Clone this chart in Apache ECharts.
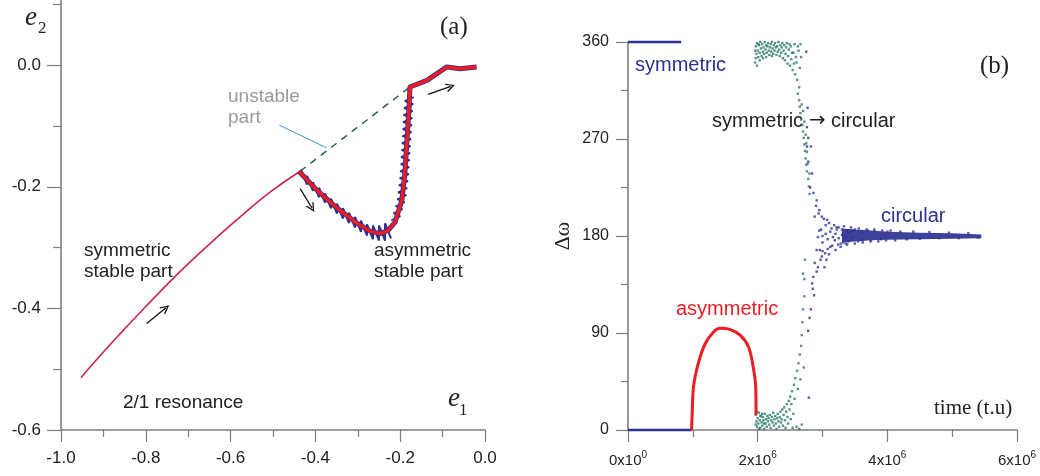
<!DOCTYPE html>
<html><head><meta charset="utf-8">
<script src="https://cdn.jsdelivr.net/npm/echarts@6/dist/echarts.min.js"></script>
<style>html,body{margin:0;padding:0;background:#fff}#c{width:1040px;height:476px}</style>
</head><body><div id="c"></div>
<script>
// ================= Panel (a): e1 vs e2 =================
const e1TickLabels = [-1.0, -0.8, -0.6, -0.4, -0.2, 0.0];
const e2TickLabels = [-0.6, -0.4, -0.2, 0.0];

// symmetric stable part (thin line)
const symE1 = [-0.953, -0.908, -0.861, -0.800, -0.743, -0.696, -0.637, -0.578, -0.507, -0.436];
const symE2 = [-0.514, -0.478, -0.442, -0.397, -0.356, -0.324, -0.286, -0.250, -0.209, -0.1745];

// unstable part (dashed)
const unstE1 = [-0.436, -0.177];
const unstE2 = [-0.1745, -0.036];

// asymmetric stable part (thick red)
const asymE1 = [-0.439, -0.396, -0.349, -0.302, -0.271, -0.248, -0.229, -0.212, -0.196, -0.189, -0.184, -0.179, -0.177, -0.137, -0.090, -0.059, -0.020];
const asymE2 = [-0.1745, -0.206, -0.235, -0.260, -0.273, -0.277, -0.272, -0.258, -0.222, -0.178, -0.123, -0.069, -0.036, -0.025, -0.003, -0.006, -0.003];

// blue oscillation around the asymmetric branch (descending part)
const zigE1 = [-0.4340, -0.4198, -0.4198, -0.4057, -0.4057, -0.3915, -0.3915, -0.3774, -0.3774, -0.3632, -0.3632, -0.3491, -0.3491, -0.3349, -0.3349, -0.3208, -0.3208, -0.3066, -0.3066, -0.2925, -0.2925, -0.2783, -0.2783, -0.2642, -0.2642, -0.2500, -0.2500, -0.2358, -0.2358, -0.2217];
const zigE2 = [-0.1717, -0.1964, -0.1821, -0.2067, -0.1926, -0.2173, -0.2016, -0.2263, -0.2107, -0.2354, -0.2194, -0.2441, -0.2277, -0.2523, -0.2351, -0.2598, -0.2425, -0.2672, -0.2495, -0.2742, -0.2556, -0.2803, -0.2617, -0.2864, -0.2637, -0.2884, -0.2639, -0.2886, -0.2601, -0.2848];
// blue oscillation (steep rising part)
const zig2E1 = [-0.2210, -0.1998, -0.2158, -0.1946, -0.2106, -0.1894, -0.2068, -0.1856, -0.2050, -0.1837, -0.2031, -0.1818, -0.2012, -0.1800, -0.2000, -0.1788, -0.1988, -0.1776, -0.1979, -0.1767, -0.1969, -0.1757, -0.1960, -0.1748, -0.1948, -0.1736, -0.1939, -0.1726, -0.1929, -0.1717, -0.1920, -0.1708, -0.1908, -0.1696, -0.1892, -0.1679];
const zig2E2 = [-0.2551, -0.2486, -0.2436, -0.2370, -0.2321, -0.2255, -0.2206, -0.2140, -0.2091, -0.2025, -0.1975, -0.1909, -0.1860, -0.1794, -0.1745, -0.1679, -0.1630, -0.1564, -0.1514, -0.1449, -0.1399, -0.1333, -0.1284, -0.1218, -0.1169, -0.1103, -0.1053, -0.0988, -0.0938, -0.0872, -0.0823, -0.0757, -0.0708, -0.0642, -0.0593, -0.0527];

// direction arrows [e1 start, e2 start, e1 end, e2 end]
const arrowsA = [
  [-0.798, -0.425, -0.753, -0.3995],
  [-0.436, -0.203, -0.408, -0.235],
  [-0.134, -0.048, -0.081, -0.035]
];
// pointer from "unstable part" label to dashed line
const pointerA = [-0.485, -0.0988, -0.3734, -0.1361];

// ================= Panel (b): time vs Δω =================
const timeTickLabels = [0, 2, 4, 6];        // in units of 10^6 t.u
const dwTickLabels = [0, 90, 180, 270, 360];

const symTopT = [0, 0.82];  const symTopV = [360, 360];
const symZeroT = [0, 0.98]; const symZeroV = [0, 0];

const asymT = [0.98, 0.99, 1.01, 1.085, 1.19, 1.32, 1.42, 1.57, 1.73, 1.86, 1.93, 1.97, 1.975];
const asymV = [0, 15.5, 40, 62, 80, 91, 94.4, 93.4, 88, 77, 59, 40, 14];

// transitional (teal) points [t (10^6), Δω]
const tealPts = [
 [1.96,341],[1.96,352],[1.97,356],[1.97,345],[1.98,349],[1.99,359],[1.99,338],[2.00,352],[2.01,346],[2.01,358],
 [2.02,357],[2.03,350],[2.03,343],[2.04,360],[2.05,354],[2.06,347],[2.07,358],[2.08,351],[2.08,345],[2.09,355],
 [2.10,349],[2.11,360],[2.12,353],[2.13,357],[2.13,346],[2.14,350],[2.15,356],[2.16,359],[2.17,352],[2.18,348],
 [2.19,355],[2.20,358],[2.21,351],[2.22,360],[2.22,347],[2.23,354],[2.24,349],[2.25,357],[2.26,352],[2.27,359],
 [2.28,355],[2.29,348],[2.30,356],[2.31,351],[2.32,360],[2.33,353],[2.34,347],[2.35,357],[2.36,350],[2.37,355],
 [2.38,359],[2.39,345],[2.40,352],[2.41,357],[2.42,343],[2.43,349],[2.44,355],[2.45,359],[2.46,340],[2.47,347],
 [2.48,353],[2.49,358],[2.50,338],[2.51,356],[2.52,344],[2.53,350],[2.54,334],[2.55,350],[2.56,340],[2.57,358],
 [2.58,330],[2.59,346],[2.60,341],[2.61,325],[2.62,356],[2.63,352],[2.64,318],[2.65,336],[2.66,358],[2.67,346],
 [2.62,312],[2.64,306],[2.65,300],[2.66,294],[2.67,288],[2.69,283],[2.70,277],[2.71,271],[2.72,265],[2.73,259],
 [2.74,252],[2.75,246],[2.76,240],[2.78,233],[2.79,226],[2.80,219],[2.70,296],[2.72,286],[2.74,274],[2.76,258],
 [2.68,302],[2.75,266],[2.77,247],[2.80,238],
 [1.97,14],[1.97,5],[1.98,8],[1.99,3],[1.99,17],[2.00,11],[2.01,6],[2.02,16],[2.02,1],[2.03,9],
 [2.04,2],[2.04,13],[2.05,13],[2.06,7],[2.07,4],[2.07,15],[2.08,12],[2.09,9],[2.10,1],[2.10,6],
 [2.11,15],[2.12,6],[2.13,10],[2.14,3],[2.15,13],[2.16,8],[2.17,11],[2.18,5],[2.19,14],[2.20,2],
 [2.21,9],[2.22,12],[2.23,7],[2.24,16],[2.25,4],[2.26,10],[2.27,13],[2.28,6],[2.29,1],[2.30,11],
 [2.31,15],[2.32,8],[2.33,3],[2.34,12],[2.35,17],[2.36,7],[2.37,10],[2.38,19],[2.39,4],[2.40,14],
 [2.41,21],[2.42,9],[2.43,2],[2.44,17],[2.45,24],[2.46,12],[2.47,6],[2.48,27],[2.49,19],[2.50,31],
 [2.51,10],[2.52,24],[2.53,36],[2.54,2],[2.55,15],[2.56,42],[2.57,29],[2.58,48],[2.60,3],[2.61,55],
 [2.62,38],[2.63,62],[2.64,1],[2.65,70],[2.66,47],[2.67,78],[2.68,5],[2.68,88],[2.69,100],[2.70,112],
 [2.71,58],[2.72,124],[2.73,158],[2.72,140],[2.70,145]
];

// circular (blue) scattered points [t (10^6), Δω]
const bluePts = [
 [2.75,351],[2.77,299],[2.76,281],[2.78,271],[2.76,263],[2.82,263],[2.78,249],[2.84,238],[2.81,225],[2.86,220],
 [2.91,213],[2.95,204],[2.99,198],[2.88,198],[3.07,195],[2.98,186],[2.93,179],[3.00,174],[2.91,167],[2.99,161],
 [2.88,155],[2.93,151],[2.91,147],[2.86,142],[2.97,158],[3.04,164],[3.12,170],[3.19,176],[3.03,151],[2.96,167],
 [2.84,136],[2.87,125],[2.80,104],[2.79,30],[2.82,112],[2.78,92],[2.85,131],
 [2.90,208],[2.94,201],[3.02,196],[3.10,192],[3.18,190],[3.25,188],[3.05,190],[3.14,187],[3.22,186],[3.30,186],
 [3.38,185],[3.46,185],[3.00,166],[3.08,168],[3.15,171],[3.24,172],[3.32,174],[3.40,175],[3.06,158],[3.10,163],
 [3.20,167],[3.28,170],[3.36,173],[2.95,185],[3.00,180],[3.05,182],[3.08,177],[3.12,184],[3.16,179],[3.20,182],
 [3.25,178],[3.30,181],[3.35,179],[3.40,183],[3.45,178],[3.50,186],[3.55,175],[3.60,184],[3.62,176],[3.70,185],
 [3.75,176],[3.80,184],[3.90,177],[4.00,184],
 [3.22,188],[3.28,173],[3.33,189],[3.38,172],[3.44,188],[3.50,173],[3.56,187],[3.62,174],[3.68,186],[3.74,175],
 [3.80,186],[3.86,175],[3.92,185],[3.98,176],[4.05,185],[4.12,176],[4.20,184],[4.30,177],[4.40,184],[4.50,177.5],
 [4.65,183.5],[4.80,178],[4.95,183],[5.10,178],[5.25,182.5],[5.40,178.5]
];

// dense circular band envelope
const bandT  = [3.30, 3.50, 3.75, 4.00, 4.50, 5.00, 5.45];
const bandLo = [174, 175, 176, 176.5, 177, 177.5, 178];
const bandHi = [187, 186, 185, 184, 183, 182.5, 181.5];

// ================= styling =================
const BLUE = '#2e3192', RED = '#ed1c24', TEAL = '#2a7a6c', AXIS = '#7f7f7f';
const SANS = 'Liberation Sans', SERIF = 'Liberation Serif';
const CHEVRON = 'path://M0,10 L5,0 L10,10 L8.4,10 L5,3.2 L1.6,10 Z';
const zip = (a, b) => a.map((v, i) => [v, b[i]]);

const axisBase = {
  axisLine: { onZero: false, lineStyle: { color: AXIS, width: 1.6 } },
  splitLine: { show: false },
};

const chart = echarts.init(document.getElementById('c'), null, { renderer: 'canvas' });
chart.setOption({
  animation: false,
  backgroundColor: '#fff',
  grid: [
    // e2 axis runs to 0.2 (above the canvas top) so that the 0.1 minor tick sits at the top edge
    { left: 61, top: -56.5, width: 424, height: 486.5, outerBoundsMode: 'none', containLabel: false },
    { left: 628, top: 42, width: 389, height: 388, outerBoundsMode: 'none', containLabel: false }
  ],
  xAxis: [
    Object.assign({}, axisBase, {
      type: 'value', gridIndex: 0, min: -1, max: 0, interval: 0.2,
      axisTick: { length: 12, lineStyle: { color: AXIS, width: 1.2 } },
      minorTick: { show: true, splitNumber: 2, length: 7, lineStyle: { color: AXIS, width: 1.2 } },
      axisLabel: { margin: 20, fontSize: 17, color: '#222', fontFamily: SANS, formatter: v => v.toFixed(1) }
    }),
    Object.assign({}, axisBase, {
      type: 'value', gridIndex: 1, min: 0, max: 6, interval: 2,
      axisTick: { length: 12, lineStyle: { color: AXIS, width: 1.2 } },
      minorTick: { show: true, splitNumber: 2, length: 7, lineStyle: { color: AXIS, width: 1.2 } },
      axisLabel: {
        margin: 20, color: '#222', fontFamily: SANS,
        formatter: v => v === 0 ? '{n|0x10}{s|0}' : '{n|' + v + 'x10}{s|6}',
        rich: {
          n: { fontSize: 15, fontFamily: SANS, color: '#222', verticalAlign: 'bottom', lineHeight: 18 },
          s: { fontSize: 10, fontFamily: SANS, color: '#222', verticalAlign: 'top', lineHeight: 18 }
        }
      }
    })
  ],
  yAxis: [
    Object.assign({}, axisBase, {
      type: 'value', gridIndex: 0, min: -0.6, max: 0.2, interval: 0.2,
      axisTick: { length: 14, lineStyle: { color: AXIS, width: 1.2 } },
      minorTick: { show: true, splitNumber: 2, length: 8, lineStyle: { color: AXIS, width: 1.2 } },
      axisLabel: { margin: 20, fontSize: 17, color: '#222', fontFamily: SANS,
        formatter: v => e2TickLabels.some(t => Math.abs(t - v) < 1e-9) ? v.toFixed(1) : '' }
    }),
    Object.assign({}, axisBase, {
      type: 'value', gridIndex: 1, min: 0, max: 360, interval: 90,
      axisTick: { length: 12, lineStyle: { color: AXIS, width: 1.2 } },
      minorTick: { show: true, splitNumber: 2, length: 7, lineStyle: { color: AXIS, width: 1.2 } },
      axisLabel: { margin: 19, fontSize: 16, color: '#222', fontFamily: SANS },
      name: 'Δω', nameLocation: 'middle', nameRotate: 90, nameGap: 54,
      nameTextStyle: { fontFamily: SERIF, fontSize: 22, color: '#222' }
    })
  ],
  series: [
    // ---- panel (a)
    { type: 'line', xAxisIndex: 0, yAxisIndex: 0, data: zip(symE1, symE2), smooth: true, symbol: 'none',
      lineStyle: { color: '#c8254e', width: 1.6 }, z: 3,
      markLine: { silent: true, symbol: ['none', CHEVRON], symbolSize: [9, 9], label: { show: false },
        lineStyle: { color: '#111', width: 1.3, type: 'solid' },
        data: arrowsA.map(a => [{ coord: [a[0], a[1]] }, { coord: [a[2], a[3]] }]) } },
    { type: 'line', xAxisIndex: 0, yAxisIndex: 0, data: zip(unstE1, unstE2), symbol: 'none',
      lineStyle: { color: '#2d5e54', width: 1.5, type: [7, 6] }, z: 2,
      markLine: { silent: true, symbol: ['none', 'none'], label: { show: false },
        lineStyle: { color: '#3a95d0', width: 1, type: 'solid' },
        data: [[{ coord: [pointerA[0], pointerA[1]] }, { coord: [pointerA[2], pointerA[3]] }]] } },
    { type: 'line', xAxisIndex: 0, yAxisIndex: 0, data: zip(asymE1, asymE2), symbol: 'none',
      lineStyle: { color: BLUE, width: 5, join: 'round' }, z: 3 },
    { type: 'line', xAxisIndex: 0, yAxisIndex: 0, data: zip(zigE1, zigE2), symbol: 'none',
      lineStyle: { color: BLUE, width: 2 }, z: 3 },
    { type: 'line', xAxisIndex: 0, yAxisIndex: 0, data: zip(zig2E1, zig2E2), symbol: 'none',
      lineStyle: { color: BLUE, width: 1.8 }, z: 3 },
    { type: 'line', xAxisIndex: 0, yAxisIndex: 0, data: zip(asymE1, asymE2), symbol: 'none',
      lineStyle: { color: RED, width: 3.5, join: 'round' }, z: 4 },
    // ---- panel (b)
    { type: 'line', xAxisIndex: 1, yAxisIndex: 1, data: zip(symTopT, symTopV), symbol: 'none',
      lineStyle: { color: BLUE, width: 2.5 }, clip: false },
    { type: 'line', xAxisIndex: 1, yAxisIndex: 1, data: zip(symZeroT, symZeroV), symbol: 'none',
      lineStyle: { color: BLUE, width: 2.5 }, clip: false },
    { type: 'line', xAxisIndex: 1, yAxisIndex: 1, data: zip(asymT, asymV), symbol: 'none', smooth: 0.3,
      lineStyle: { color: RED, width: 3 }, clip: false },
    { type: 'custom', xAxisIndex: 1, yAxisIndex: 1, data: bandT.map((t, i) => [t, bandLo[i], bandHi[i]]),
      renderItem: (params, api) => {
        if (params.dataIndex !== 0) return null;
        const pts = [];
        for (let i = 0; i < bandT.length; i++) pts.push(api.coord([bandT[i], bandHi[i]]));
        for (let i = bandT.length - 1; i >= 0; i--) pts.push(api.coord([bandT[i], bandLo[i]]));
        return { type: 'polygon', shape: { points: pts }, style: { fill: BLUE, opacity: 0.92 } };
      } },
    { type: 'scatter', xAxisIndex: 1, yAxisIndex: 1, data: tealPts, symbol: 'rect', symbolSize: 2.4,
      itemStyle: { color: TEAL }, clip: false },
    { type: 'scatter', xAxisIndex: 1, yAxisIndex: 1, data: bluePts, symbol: 'rect', symbolSize: 2.4,
      itemStyle: { color: BLUE }, clip: false }
  ],
  graphic: [
    // panel (a) texts
    { type: 'text', x: 25, y: 18, style: { text: 'e', font: 'italic 27px ' + SERIF, fill: '#222', verticalAlign: 'middle' } },
    { type: 'text', x: 38, y: 29, style: { text: '2', font: '17px ' + SERIF, fill: '#222', verticalAlign: 'middle' } },
    { type: 'text', x: 440, y: 27, style: { text: '(a)', font: '25px ' + SERIF, fill: '#222', verticalAlign: 'middle' } },
    { type: 'text', x: 228, y: 97, style: { text: 'unstable', font: '19px ' + SANS, fill: '#9a9a9a', verticalAlign: 'middle' } },
    { type: 'text', x: 228, y: 118, style: { text: 'part', font: '19px ' + SANS, fill: '#9a9a9a', verticalAlign: 'middle' } },
    { type: 'text', x: 84, y: 251, style: { text: 'symmetric', font: '19px ' + SANS, fill: '#222', verticalAlign: 'middle' } },
    { type: 'text', x: 84, y: 272, style: { text: 'stable part', font: '19px ' + SANS, fill: '#222', verticalAlign: 'middle' } },
    { type: 'text', x: 374, y: 251, style: { text: 'asymmetric', font: '19px ' + SANS, fill: '#222', verticalAlign: 'middle' } },
    { type: 'text', x: 374, y: 272, style: { text: 'stable part', font: '19px ' + SANS, fill: '#222', verticalAlign: 'middle' } },
    { type: 'text', x: 123, y: 403, style: { text: '2/1 resonance', font: '19px ' + SANS, fill: '#222', verticalAlign: 'middle' } },
    { type: 'text', x: 448, y: 399, style: { text: 'e', font: 'italic 27px ' + SERIF, fill: '#222', verticalAlign: 'middle' } },
    { type: 'text', x: 459, y: 411, style: { text: '1', font: '17px ' + SERIF, fill: '#222', verticalAlign: 'middle' } },
    // panel (b) texts
    { type: 'text', x: 980, y: 66, style: { text: '(b)', font: '25px ' + SERIF, fill: '#222', verticalAlign: 'middle' } },
    { type: 'text', x: 635, y: 65, style: { text: 'symmetric', font: '20px ' + SANS, fill: BLUE, verticalAlign: 'middle' } },
    { type: 'text', x: 712, y: 121, style: { text: 'symmetric {a|→} circular', font: '20px ' + SANS, fill: '#222', verticalAlign: 'middle',
        rich: { a: { fontFamily: 'DejaVu Sans', fontSize: 20, fill: '#222' } } } },
    { type: 'text', x: 881, y: 216, style: { text: 'circular', font: '20px ' + SANS, fill: BLUE, verticalAlign: 'middle' } },
    { type: 'text', x: 676, y: 309, style: { text: 'asymmetric', font: '20px ' + SANS, fill: RED, verticalAlign: 'middle' } },
    { type: 'text', x: 934, y: 408, style: { text: 'time (t.u)', font: '21px ' + SERIF, fill: '#222', verticalAlign: 'middle' } }
  ]
});
</script>
</body></html>
